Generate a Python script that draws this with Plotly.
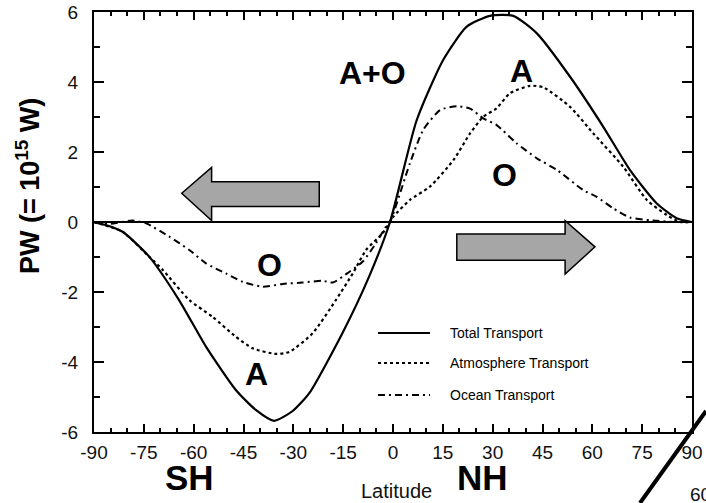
import plotly.graph_objects as go

# ---- data ----
total_lat = [-90, -86, -81.4, -73.4, -64.4, -56.3, -47.3, -41.3, -35.8, -30.2, -25.2, -15.2, -7.2, -0.9,
             7.1, 15.1, 22.2, 29.2, 36.2, 43.3, 53.3, 63.3, 71.3, 79.4, 85.4, 90]
total_pw = [0, -0.1, -0.28, -0.99, -2.23, -3.56, -4.8, -5.37, -5.68, -5.4, -4.89, -3.17, -1.56, 0,
            2.9, 4.63, 5.58, 5.89, 5.89, 5.39, 4.15, 2.72, 1.49, 0.53, 0.11, 0]

atmos_lat = [-90, -81.4, -73.4, -69.3, -61.3, -54.3, -47.3, -42.2, -35.2, -31.2, -24.2, -17.2, -12.1, -8.1,
             -3.1, 0.1, 5.1, 11.1, 18.2, 23.2, 27.2, 31.2, 35.2, 41.2, 45.2, 53.3, 60.3, 69.3, 76.4,
             82.4, 86.4, 90]
atmos_pw = [0, -0.28, -0.99, -1.37, -2.23, -2.71, -3.28, -3.61, -3.77, -3.71, -3.18, -2.23, -1.47, -0.8,
            -0.32, 0.15, 0.63, 1.01, 1.77, 2.53, 3.01, 3.25, 3.68, 3.89, 3.85, 3.29, 2.53, 1.58, 0.63,
            0.2, 0, 0]

ocean_lat = [-90, -85, -78.4, -74.3, -67.3, -61.3, -56.3, -50.3, -45.2, -39.2, -33.2, -27.2, -21.2, -18.1,
             -13.1, -9.1, -5.1, -2.1, -0.9, 5.1, 9.1, 14.2, 19.2, 23.2, 27.2, 31.2, 37.2, 43.3, 49.3,
             57.3, 61.3, 66.3, 71.3, 77.4, 85.4, 90]
ocean_pw = [0, -0.05, 0.04, -0.04, -0.42, -0.8, -1.18, -1.47, -1.71, -1.85, -1.77, -1.73, -1.68, -1.73,
            -1.42, -1.13, -0.6, -0.13, 0, 1.68, 2.63, 3.2, 3.31, 3.24, 2.96, 2.77, 2.25, 1.82, 1.49,
            0.91, 0.72, 0.39, 0.13, 0.05, 0, 0]

x_ticks = [-90, -75, -60, -45, -30, -15, 0, 15, 30, 45, 60, 75, 90]
x_ticklabels = ["-90", "-75", "-60", "-45", "-30", "-15", "0", "15", "30", "45", "60", "75", "90"]
y_ticks = [-6, -4, -2, 0, 2, 4, 6]
y_ticklabels = ["-6", "-4", "-2", "0", "2", "4", "6"]

series_names = ["Total Transport", "Atmosphere Transport", "Ocean Transport"]
series_dash = ["solid", "dot", "7px,4px,2px,4px"]

# ---- layout geometry (pixels) ----
W, H = 706, 503
L, R, T, B = 94, 14, 12, 71
PW_, PH_ = W - L - R, H - T - B


def px(xp):
    return (xp - L) / PW_


def py(yp):
    return (H - B - yp) / PH_


FONT = "Liberation Sans, Arial, sans-serif"

fig = go.Figure()
for lat, pw, name, dash, w in zip([total_lat, atmos_lat, ocean_lat], [total_pw, atmos_pw, ocean_pw],
                                  series_names, series_dash, [2.2, 2.2, 2.0]):
    fig.add_trace(go.Scatter(x=lat, y=pw, mode="lines", name=name,
                             line=dict(color="black", width=w, dash=dash, shape="spline", smoothing=0.6),
                             showlegend=False))

axis_common = dict(showline=True, linecolor="black", linewidth=2, mirror="ticks", ticks="inside",
                   tickcolor="black", tickwidth=1.5, showgrid=False, automargin=False,
                   tickfont=dict(family=FONT, size=19, color="#111"))

fig.update_xaxes(range=[-90, 90], tickvals=x_ticks, ticktext=x_ticklabels, ticklen=8,
                 minor=dict(dtick=5, tick0=-90, ticks="inside", ticklen=4, tickcolor="black", tickwidth=1.5),
                 zeroline=False, ticklabelstandoff=2, **axis_common)
fig.update_yaxes(range=[-6, 6], tickvals=y_ticks, ticktext=y_ticklabels, ticklen=10,
                 minor=dict(dtick=1, tick0=0, ticks="inside", ticklen=6, tickcolor="black", tickwidth=1.5),
                 zeroline=True, zerolinecolor="black", zerolinewidth=1.6, ticklabelstandoff=10, **axis_common)

shapes = []
# arrows (data coordinates)
left_arrow = [(-63.6, 0.82), (-54.6, 1.56), (-54.6, 1.15), (-22.2, 1.15), (-22.2, 0.44), (-54.6, 0.44), (-54.6, 0.04)]
right_arrow = [(60.8, -0.71), (51.8, 0.04), (51.8, -0.34), (19.2, -0.34), (19.2, -1.09), (51.8, -1.09), (51.8, -1.49)]
for arr in (left_arrow, right_arrow):
    path = "M " + " L ".join(f"{a},{b}" for a, b in arr) + " Z"
    shapes.append(dict(type="path", path=path, xref="x", yref="y", fillcolor="#a6a6a6",
                       line=dict(color="black", width=1.5), layer="above"))

# manual legend
leg_y = [333, 363, 395]
for yy, dash in zip(leg_y, series_dash):
    shapes.append(dict(type="line", xref="paper", yref="paper", x0=px(378), x1=px(430), y0=py(yy), y1=py(yy),
                       line=dict(color="black", width=2, dash=dash)))

# overlaid corner decoration (bottom right)
shapes.append(dict(type="path", xref="paper", yref="paper",
                   path=f"M {px(673)},{py(459)} L {px(706)},{py(459)} L {px(706)},{py(503)} L {px(640)},{py(503)} Z",
                   fillcolor="white", line=dict(width=0), layer="above"))
shapes.append(dict(type="line", xref="paper", yref="paper", x0=px(640), y0=py(503), x1=px(706), y1=py(411),
                   line=dict(color="black", width=4), layer="above"))

annotations = []
for yy, name in zip(leg_y, series_names):
    annotations.append(dict(text=name, xref="paper", yref="paper", x=px(448), y=py(yy), xanchor="left",
                            yanchor="middle", showarrow=False, font=dict(family=FONT, size=14, color="black")))

big = dict(family=FONT, size=32, color="black", weight="bold")
for txt, xx, yy in [("A+O", -6.3, 4.26), ("A", 38.8, 4.31), ("O", 33.7, 1.33), ("O", -37.2, -1.23), ("A", -41, -4.35)]:
    annotations.append(dict(text=txt, x=xx, y=yy, xref="x", yref="y", showarrow=False, font=big,
                            xanchor="center", yanchor="middle"))

for txt, xp, yp in [("SH", 189, 477), ("NH", 482, 477)]:
    annotations.append(dict(text=txt, x=px(xp), y=py(yp), xref="paper", yref="paper", showarrow=False,
                            font=dict(family=FONT, size=35, color="black", weight="bold"),
                            xanchor="center", yanchor="middle"))

annotations.append(dict(text="Latitude", x=px(396), y=py(491), xref="paper", yref="paper", showarrow=False,
                        font=dict(family=FONT, size=20, color="#111"), xanchor="center", yanchor="middle"))
annotations.append(dict(text="PW (= 10<sup>15</sup> W)", x=px(28), y=py(186), xref="paper", yref="paper",
                        showarrow=False, textangle=-90,
                        font=dict(family=FONT, size=27, color="black", weight="bold"),
                        xanchor="center", yanchor="middle"))
annotations.append(dict(text="60", x=px(688), y=py(495), xref="paper", yref="paper", showarrow=False,
                        font=dict(family=FONT, size=19, color="#111"), xanchor="left", yanchor="middle"))

fig.update_layout(width=W, height=H, margin=dict(l=L, r=R, t=T, b=B, pad=0, autoexpand=False),
                  paper_bgcolor="white", plot_bgcolor="white", showlegend=False,
                  shapes=shapes, annotations=annotations)

fig.write_html("out.html", config={"displayModeBar": False},
               post_script="document.body.style.margin='0px';document.body.style.overflow='hidden';")
